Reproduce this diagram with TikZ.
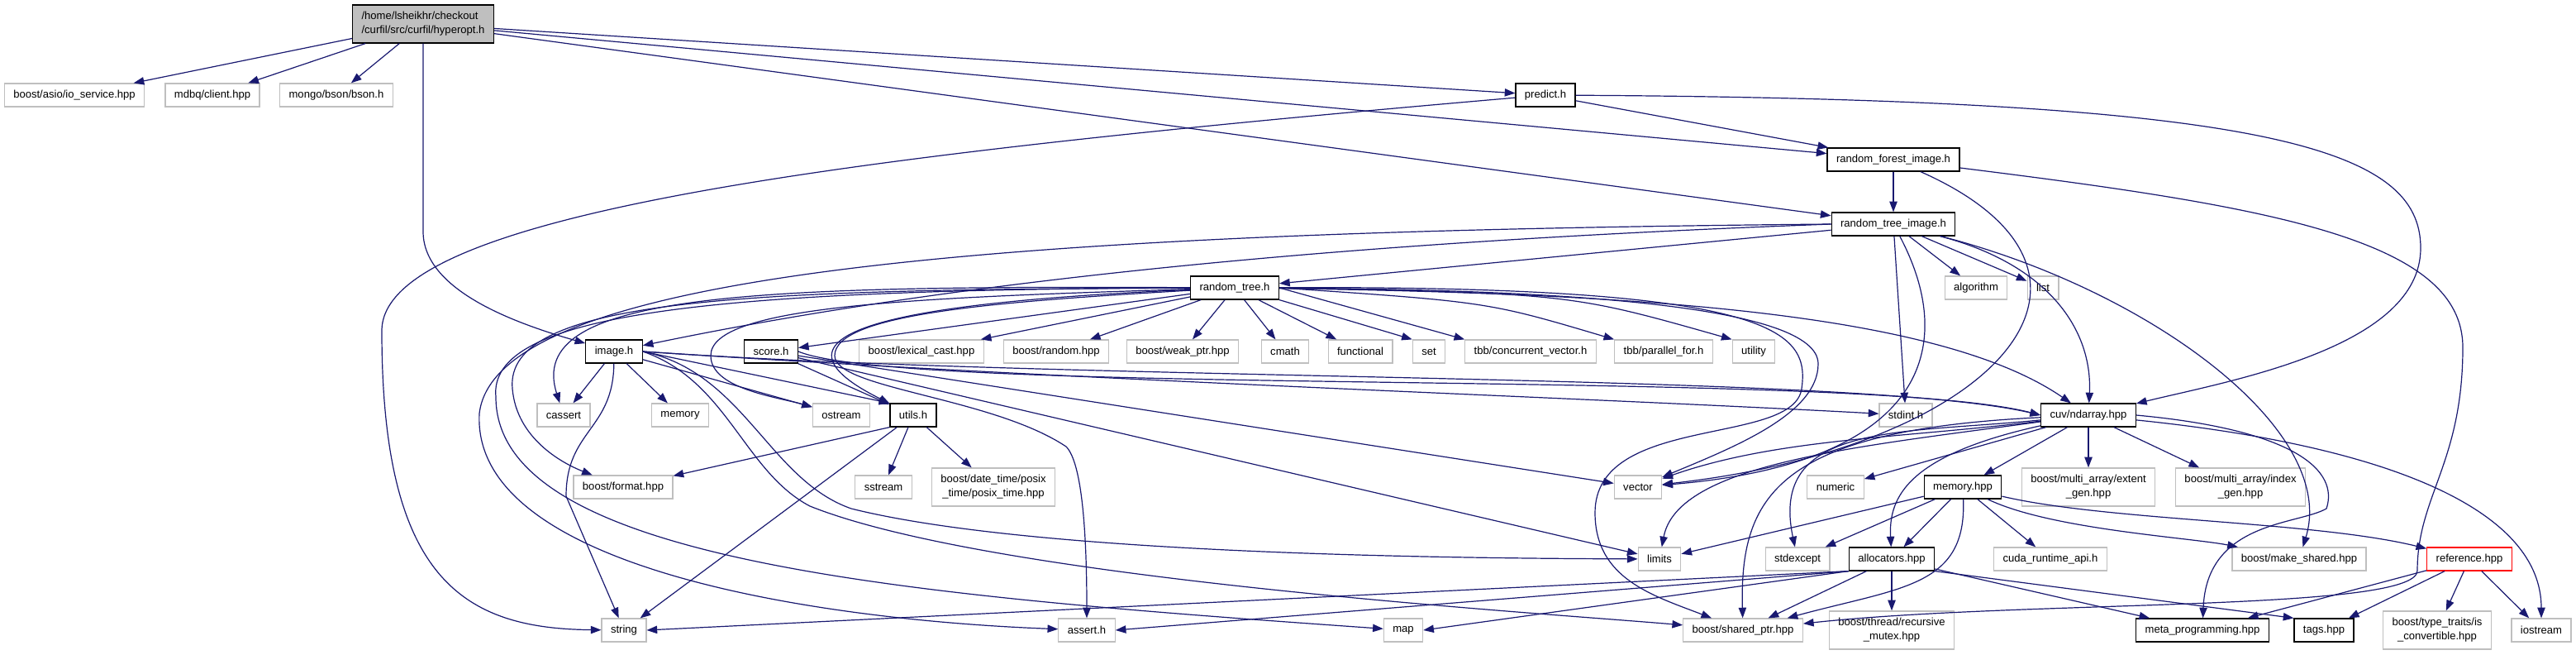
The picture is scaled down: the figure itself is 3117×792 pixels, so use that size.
\documentclass[tikz,border=0pt]{standalone}
\usepackage{fontspec}
\newfontfamily\depfont{Liberation Sans}
\usetikzlibrary{arrows.meta}
\definecolor{depblue}{RGB}{25,25,112}
\definecolor{extgray}{RGB}{191,191,191}

\begin{document}
\begin{tikzpicture}[
    x=0.75pt, y=-0.75pt,
    hdr/.style={draw=black, line width=0.9pt, fill=white, inner xsep=8.2pt, inner ysep=0pt, minimum height=21pt, font=\depfont\fontsize{9.8}{12.75}\selectfont, align=center},
    syshdr/.style={hdr, draw=extgray},
    roothdr/.style={hdr, fill=extgray, align=left},
    redhdr/.style={hdr, draw=red},
    twoline/.style={minimum height=34.5pt},
    dep/.style={->, draw=depblue, line width=0.9pt},
    >={Triangle[length=9.5pt,width=7pt]}
]
\fill[white] (0,0) rectangle (3117,792);
\useasboundingbox (0,0) rectangle (3117,792);

\node[roothdr, twoline] (hyper) at (512,29) {/home/lsheikhr/checkout\\/curfil/src/curfil/hyperopt.h};
\node[syshdr] (asio) at (90,115) {boost/asio/io\_service.hpp};
\node[syshdr] (mdbq) at (257,115) {mdbq/client.hpp};
\node[syshdr] (bson) at (407,115) {mongo/bson/bson.h};
\node[hdr] (predict) at (1870,115) {predict.h};
\node[hdr] (rfi) at (2291,193) {random\_forest\_image.h};
\node[hdr] (rti) at (2291,271) {random\_tree\_image.h};
\node[hdr] (rt) at (1494,348) {random\_tree.h};
\node[syshdr] (algorithm) at (2391,348) {algorithm};
\node[syshdr] (list) at (2472,348) {list};
\node[hdr] (image) at (743,425) {image.h};
\node[hdr] (score) at (933,425) {score.h};
\node[syshdr] (lexical) at (1115,425) {boost/lexical\_cast.hpp};
\node[syshdr] (random) at (1278,425) {boost/random.hpp};
\node[syshdr] (weakptr) at (1431,425) {boost/weak\_ptr.hpp};
\node[syshdr] (cmath) at (1555,425) {cmath};
\node[syshdr] (functional) at (1646,425) {functional};
\node[syshdr] (set) at (1729,425) {set};
\node[syshdr] (tbbcv) at (1852,425) {tbb/concurrent\_vector.h};
\node[syshdr] (tbbpf) at (2013,425) {tbb/parallel\_for.h};
\node[syshdr] (utility) at (2122,425) {utility};
\node[syshdr] (cassert) at (682,502) {cassert};
\node[syshdr] (memory) at (823,502) {memory};
\node[syshdr] (ostream) at (1018,502) {ostream};
\node[hdr] (utils) at (1105,502) {utils.h};
\node[syshdr] (stdint) at (2306,502) {stdint.h};
\node[hdr] (ndarray) at (2527,502) {cuv/ndarray.hpp};
\node[syshdr] (format) at (754,589) {boost/format.hpp};
\node[syshdr] (sstream) at (1069,589) {sstream};
\node[syshdr, twoline] (datetime) at (1202,589) {boost/date\_time/posix\\\_time/posix\_time.hpp};
\node[syshdr] (vector) at (1982,589) {vector};
\node[syshdr] (numeric) at (2221,589) {numeric};
\node[hdr] (memoryhpp) at (2375,589) {memory.hpp};
\node[syshdr, twoline] (extent) at (2527,589) {boost/multi\_array/extent\\\_gen.hpp};
\node[syshdr, twoline] (index) at (2711,589) {boost/multi\_array/index\\\_gen.hpp};
\node[syshdr] (limits) at (2008,676) {limits};
\node[syshdr] (stdexcept) at (2175,676) {stdexcept};
\node[hdr] (allocators) at (2289,676) {allocators.hpp};
\node[syshdr] (cuda) at (2481,676) {cuda\_runtime\_api.h};
\node[syshdr] (makeshared) at (2782,676) {boost/make\_shared.hpp};
\node[redhdr] (reference) at (2988,676) {reference.hpp};
\node[syshdr] (string) at (755,762) {string};
\node[syshdr] (asserth) at (1315,762) {assert.h};
\node[syshdr] (map) at (1698,762) {map};
\node[syshdr] (sharedptr) at (2109,762) {boost/shared\_ptr.hpp};
\node[syshdr, twoline] (mutex) at (2289,762) {boost/thread/recursive\\\_mutex.hpp};
\node[hdr] (meta) at (2665,762) {meta\_programming.hpp};
\node[hdr] (tags) at (2812,762) {tags.hpp};
\node[syshdr, twoline] (isconv) at (2949,762) {boost/type\_traits/is\\\_convertible.hpp};
\node[syshdr] (iostream) at (3075,762) {iostream};

\draw[dep] (hyper) -- (asio);
\draw[dep] (hyper) -- (mdbq);
\draw[dep] (hyper) -- (bson);
\draw[dep] (hyper) -- (predict);
\draw[dep] (hyper) -- (rfi);
\draw[dep] (hyper) -- (rti);
\draw[dep] (hyper.south) -- (512,280) .. controls (512,350) and (620,390) .. (image);

\draw[dep] (predict) -- (rfi);
\draw[dep] (predict) .. controls (2750,120) and (2929,180) .. (2929,300) .. controls (2929,420) and (2700,460) .. (ndarray);
\draw[dep] (predict) .. controls (1000,190) and (462,260) .. (462,400) .. controls (462,700) and (560,760) .. (string);

\draw[dep] (rfi) -- (rti);
\draw[dep] (rfi) .. controls (2600,330) and (2420,540) .. (vector);
\draw[dep] (rfi) .. controls (2750,250) and (2980,290) .. (2980,420) .. controls (2980,560) and (2925,600) .. (2925,690) .. controls (2925,740) and (2450,725) .. (sharedptr);

\draw[dep] (rti) -- (rt);
\draw[dep] (rti) -- (algorithm);
\draw[dep] (rti) -- (list);
\draw[dep] (rti) -- (stdint);
\draw[dep] (rti) .. controls (2370,420) and (2330,560) .. (vector);
\draw[dep] (rti) .. controls (2480,320) and (2532,400) .. (ndarray);
\draw[dep] (rti) .. controls (2600,350) and (2830,520) .. (makeshared);
\draw[dep] (rti.west) .. controls (1700,290) and (1200,330) .. (image);
\draw[dep] (rti.west) .. controls (1200,280) and (600,330) .. (580,500) .. controls (570,690) and (1000,750) .. (asserth);

\draw[dep] (rt) -- (score);
\draw[dep] (rt) -- (lexical);
\draw[dep] (rt) -- (random);
\draw[dep] (rt) -- (weakptr);
\draw[dep] (rt) -- (cmath);
\draw[dep] (rt) -- (functional);
\draw[dep] (rt.south east) -- (set.north west);
\draw[dep] (rt.east) -- (tbbcv.north west);
\draw[dep] (rt.east) .. controls (1800,365) .. (tbbpf.north west);
\draw[dep] (rt.east) .. controls (1900,355) .. (utility.north west);
\draw[dep] (rt) .. controls (900,345) and (635,355) .. (cassert);
\draw[dep] (rt) .. controls (900,350) and (610,360) .. (620,470) .. controls (625,530) and (680,560) .. (format);
\draw[dep] (rt) .. controls (850,350) and (590,380) .. (600,480) .. controls (600,680) and (1100,720) .. (map);
\draw[dep] (rt) .. controls (1100,360) and (860,370) .. (860,430) .. controls (860,470) and (940,480) .. (ostream);
\draw[dep] (rt) .. controls (1100,365) and (900,400) .. (utils);
\draw[dep] (rt) .. controls (1200,365) and (1010,380) .. (1010,430) .. controls (1010,470) and (1200,480) .. (1290,540) .. controls (1310,560) and (1315,650) .. (asserth);
\draw[dep] (rt) .. controls (2000,355) and (2350,380) .. (ndarray);
\draw[dep] (rt) .. controls (1900,350) and (2200,370) .. (2200,440) .. controls (2200,500) and (2100,540) .. (vector);
\draw[dep] (rt) .. controls (2150,345) and (2190,400) .. (2180,470) .. controls (2170,540) and (1930,500) .. (1930,620) .. controls (1930,700) and (2000,720) .. (sharedptr);

\draw[dep] (image) -- (cassert);
\draw[dep] (image) -- (memory);
\draw[dep] (image) .. controls (742,520) and (685,520) .. (685,600) -- (string);
\draw[dep] (image) -- (ostream);
\draw[dep] (image.east) -- (utils.north west);
\draw[dep] (image.east) .. controls (1300,460) and (1900,480) .. (stdint);
\draw[dep] (image.east) .. controls (1300,462) and (2250,450) .. (ndarray.west);
\draw[dep] (image.east) .. controls (900,450) and (930,580) .. (1030,615) .. controls (1250,670) and (1750,675) .. (limits);
\draw[dep] (image.east) .. controls (880,460) and (900,570) .. (980,612) .. controls (1200,700) and (1850,740) .. (sharedptr);

\draw[dep] (score) -- (utils);
\draw[dep] (score.east) .. controls (1100,480) and (2250,445) .. (ndarray.west);
\draw[dep] (score) -- (vector);
\draw[dep] (score) -- (limits);

\draw[dep] (utils.south west) -- (format);
\draw[dep] (utils) -- (string);
\draw[dep] (utils) -- (sstream);
\draw[dep] (utils) -- (datetime);

\draw[dep] (ndarray) -- (memoryhpp);
\draw[dep] (ndarray) -- (extent);
\draw[dep] (ndarray) -- (index);
\draw[dep] (ndarray) -- (numeric);
\draw[dep] (ndarray) .. controls (2300,530) and (2150,530) .. (vector);
\draw[dep] (ndarray) .. controls (2250,540) and (2030,560) .. (limits);
\draw[dep] (ndarray) .. controls (2300,525) and (2140,510) .. (stdexcept);
\draw[dep] (ndarray) .. controls (2310,550) and (2285,600) .. (allocators);
\draw[dep] (ndarray) .. controls (2150,520) and (2105,600) .. (sharedptr);
\draw[dep] (ndarray.east) .. controls (2780,520) and (2830,570) .. (2815,615) .. controls (2780,635) and (2670,630) .. (meta);
\draw[dep] (ndarray) .. controls (2900,540) and (3075,620) .. (iostream);

\draw[dep] (memoryhpp) -- (limits);
\draw[dep] (memoryhpp) -- (stdexcept);
\draw[dep] (memoryhpp) -- (allocators);
\draw[dep] (memoryhpp) -- (cuda);
\draw[dep] (memoryhpp) .. controls (2380,710) and (2300,710) .. (sharedptr);
\draw[dep] (memoryhpp) .. controls (2480,640) and (2650,650) .. (makeshared);
\draw[dep] (memoryhpp) .. controls (2550,630) and (2800,630) .. (reference);

\draw[dep] (allocators.south west) -- (string.east);
\draw[dep] (allocators.south west) -- (asserth.east);
\draw[dep] (allocators.south west) -- (map.east);
\draw[dep] (allocators) -- (sharedptr);
\draw[dep] (allocators) -- (mutex);
\draw[dep] (allocators) -- (meta);
\draw[dep] (allocators.south east) -- (tags.north west);

\draw[dep] (reference) -- (meta);
\draw[dep] (reference) -- (tags);
\draw[dep] (reference) -- (isconv);
\draw[dep] (reference) -- (iostream);
\end{tikzpicture}
\end{document}
